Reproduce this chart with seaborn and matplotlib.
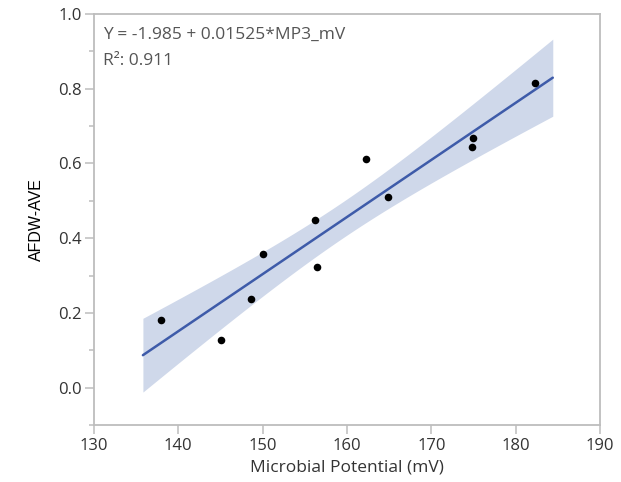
import numpy as np
import pandas as pd
import matplotlib
matplotlib.use("Agg")
import matplotlib.pyplot as plt
import seaborn as sns
from matplotlib.ticker import MultipleLocator

# ---- data ----
mp3_mv = [137.9, 145.1, 148.6, 150.0, 156.2, 156.5, 162.3, 164.9, 174.9, 174.8, 182.3]
afdw_ave = [0.181, 0.127, 0.237, 0.357, 0.449, 0.323, 0.612, 0.509, 0.669, 0.644, 0.816]
x_ticks = [130, 140, 150, 160, 170, 180, 190]
y_ticks = [0.0, 0.2, 0.4, 0.6, 0.8, 1.0]
eq_text = "Y = -1.985 + 0.01525*MP3_mV"
r2_text = "R\u00b2: 0.911"
x_label = "Microbial Potential (mV)"
y_label = "AFDW-AVE"
fit_range = (135.8, 184.4)

df = pd.DataFrame({"MP3_mV": mp3_mv, "AFDW": afdw_ave})

sns.set_style("white")
plt.rcParams["font.family"] = ["Open Sans", "DejaVu Sans"]

fig = plt.figure(figsize=(6.21, 4.82), dpi=100)
ax = fig.add_axes([94 / 621, 1 - 425 / 482, (600 - 94) / 621, (425 - 14) / 482])

line_col = "#3E5BA9"
band_col = "#CFD8EA"
grey = "#BDBDBD"

# fitted line drawn over the fit range
ax.set_xlim(*fit_range)
sns.regplot(data=df, x="MP3_mV", y="AFDW", ax=ax, ci=None, truncate=False,
            scatter_kws=dict(color="black", s=30, linewidths=0, alpha=1, zorder=4),
            line_kws=dict(color=line_col, lw=1.8, zorder=3))

# 95% confidence band of the fit
xv = np.asarray(mp3_mv)
yv = np.asarray(afdw_ave)
n = len(xv)
b1, b0 = np.polyfit(xv, yv, 1)
resid = yv - (b0 + b1 * xv)
s = np.sqrt(np.sum(resid ** 2) / (n - 2))
sxx = np.sum((xv - xv.mean()) ** 2)
t95 = 2.262
grid = np.linspace(fit_range[0], fit_range[1], 200)
se = s * np.sqrt(1 / n + (grid - xv.mean()) ** 2 / sxx)
yhat = b0 + b1 * grid
ax.fill_between(grid, yhat - t95 * se, yhat + t95 * se, color=band_col, lw=0, zorder=2)

ax.set_xlim(130, 190)
ax.set_ylim(-0.1, 1.0)
ax.set_xticks(x_ticks)
ax.set_yticks(y_ticks)
ax.yaxis.set_minor_locator(MultipleLocator(0.1))
ax.set_yticklabels([f"{v:.1f}" for v in y_ticks])

for sp in ax.spines.values():
    sp.set_color(grey)
    sp.set_linewidth(1.3)

ax.tick_params(axis="both", which="major", direction="out", length=6.5, width=1.1,
               color=grey, labelsize=12, labelcolor="#333333", pad=2.5)
ax.tick_params(axis="y", which="minor", direction="out", length=3.5, width=1.1,
               color=grey, left=True)
ax.tick_params(axis="x", bottom=True)
ax.tick_params(axis="y", left=True)

ax.set_xlabel(x_label, fontsize=12.5, color="#333333", labelpad=4)
ax.set_ylabel(y_label, fontsize=11.5, color="black", labelpad=10,
              family=["Liberation Sans", "DejaVu Sans"])

ax.text(0.018, 0.968, eq_text, transform=ax.transAxes, ha="left", va="top",
        fontsize=12.5, color="#555555")
ax.text(0.018, 0.905, r2_text, transform=ax.transAxes, ha="left", va="top",
        fontsize=12.5, color="#555555")

fig.savefig("out.png", dpi=100)
